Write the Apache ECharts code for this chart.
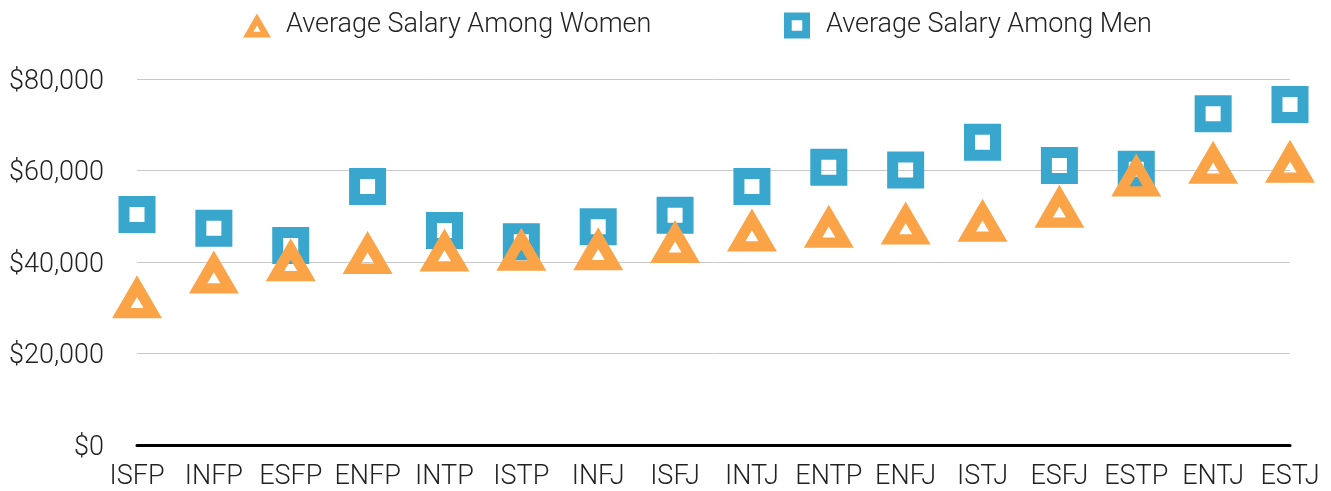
<!DOCTYPE html>
<html>
<head>
<meta charset="utf-8">
<script src="https://cdn.jsdelivr.net/npm/echarts@6/dist/echarts.min.js"></script>
<style>
  html, body { margin: 0; padding: 0; background: #fff; }
  #chart { width: 1331px; height: 491px; }
</style>
</head>
<body>
<div id="chart"></div>
<script>
const types = ['ISFP', 'INFP', 'ESFP', 'ENFP', 'INTP', 'ISTP', 'INFJ', 'ISFJ',
  'INTJ', 'ENTP', 'ENFJ', 'ISTJ', 'ESFJ', 'ESTP', 'ENTJ', 'ESTJ']
const women = [32400, 37800, 40500, 42100, 42600, 42800, 42900, 44500,
  47000, 47800, 48500, 49100, 52200, 59000, 61800, 62000]
const men = [50400, 47400, 43600, 56500, 46900, 44400, 47700, 50200,
  56500, 60700, 60100, 66200, 61100, 60300, 72400, 74400]
const yTicks = [0, 20000, 40000, 60000, 80000]

const triPath = 'path://M25,0 L50,43 L0,43 Z M25,21.7 L18.5,32.7 L31.5,32.7 Z'
const sqPath = 'path://M0,0 L37,0 L37,37 L0,37 Z M11,11 L11,26 L26,26 L26,11 Z'
const font = 'Roboto'
const labelStyle = { fontFamily: font, fontWeight: 300, fontSize: 27, color: '#222' }

const myChart = echarts.init(document.getElementById('chart'))

const option = {
  animation: false,
  textStyle: { fontFamily: font },
  legend: [
    {
      top: 12,
      left: 243,
      padding: 0,
      itemWidth: 28,
      itemHeight: 25,
      textStyle: Object.assign({ padding: [0, 0, 0, 10] }, labelStyle),
      data: [{ name: 'Average Salary Among Women', icon: triPath }]
    },
    {
      top: 12,
      left: 784,
      padding: 0,
      itemWidth: 26,
      itemHeight: 26,
      textStyle: Object.assign({ padding: [0, 0, 0, 11] }, labelStyle),
      data: [{ name: 'Average Salary Among Men', icon: sqPath }]
    }
  ],
  grid: { left: 137, right: 41, top: 79, bottom: 44 },
  xAxis: {
    type: 'category',
    data: types,
    boundaryGap: false,
    axisLine: { lineStyle: { color: '#000', width: 3 } },
    axisTick: { show: false },
    axisLabel: Object.assign({ margin: 19, interval: 0 }, labelStyle)
  },
  yAxis: {
    type: 'value',
    min: yTicks[0],
    max: yTicks[yTicks.length - 1],
    interval: 20000,
    axisLine: { show: false },
    axisTick: { show: false },
    splitLine: { lineStyle: { color: '#c8c8c8', width: 1 } },
    axisLabel: Object.assign({
      margin: 33,
      verticalAlign: 'top',
      lineHeight: 6,
      formatter: v => '$' + v.toLocaleString('en-US')
    }, labelStyle)
  },
  series: [
    {
      name: 'Average Salary Among Women',
      type: 'scatter',
      data: women,
      symbol: triPath,
      symbolSize: [50, 43],
      itemStyle: { color: '#fba447', opacity: 1 },
      z: 3
    },
    {
      name: 'Average Salary Among Men',
      type: 'scatter',
      data: men,
      symbol: sqPath,
      symbolSize: [37, 37],
      itemStyle: { color: '#39a6ce', opacity: 1 },
      z: 2
    }
  ]
}

option && myChart.setOption(option)
</script>
</body>
</html>
